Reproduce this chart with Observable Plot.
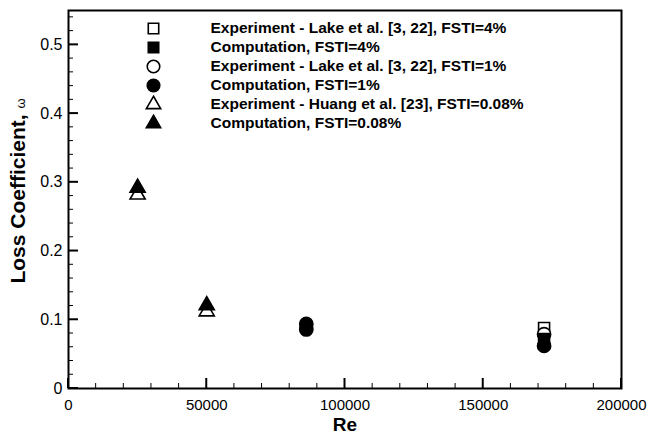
<!DOCTYPE html>
<html><head><meta charset="utf-8">
<script src="https://cdn.jsdelivr.net/npm/d3@7"></script>
<script src="https://cdn.jsdelivr.net/npm/@observablehq/plot@0.6"></script>
<style>body{margin:0;background:#fff;} #c{position:relative;width:652px;height:440px;}</style>
</head><body><div id="c"></div>
<script>
// Data
const reExp4 = [172000];           const lossExp4 = [0.088];
const reComp4 = [172000];          const lossComp4 = [0.072];
const reExp1 = [172000];           const lossExp1 = [0.079];
const reComp1 = [86000, 86000, 172000]; const lossComp1 = [0.094, 0.086, 0.062];
const reExpH = [25000, 50000];     const lossExpH = [0.282, 0.112];
const reCompH = [25000, 50000];    const lossCompH = [0.292, 0.121];

const xMajor = [0, 50000, 100000, 150000, 200000];
const yMajor = [0, 0.1, 0.2, 0.3, 0.4, 0.5];
const xMinor = [10000, 20000, 30000, 40000, 60000, 70000, 80000, 90000, 110000, 120000, 130000, 140000, 160000, 170000, 180000, 190000];
const yMinor = [0.02, 0.04, 0.06, 0.08, 0.12, 0.14, 0.16, 0.18, 0.22, 0.24, 0.26, 0.28, 0.32, 0.34, 0.36, 0.38, 0.42, 0.44, 0.46, 0.48, 0.52, 0.54];

const series = [
  {label: "Experiment - Lake et al. [3, 22], FSTI=4%", symbol: "square", filled: false, re: reExp4, loss: lossExp4},
  {label: "Computation, FSTI=4%", symbol: "square", filled: true, re: reComp4, loss: lossComp4},
  {label: "Experiment - Lake et al. [3, 22], FSTI=1%", symbol: "circle", filled: false, re: reExp1, loss: lossExp1},
  {label: "Computation, FSTI=1%", symbol: "circle", filled: true, re: reComp1, loss: lossComp1},
  {label: "Experiment - Huang et al. [23], FSTI=0.08%", symbol: "triangle", filled: false, re: reExpH, loss: lossExpH},
  {label: "Computation, FSTI=0.08%", symbol: "triangle", filled: true, re: reCompH, loss: lossCompH}
];
const sizeOf = s => s === "triangle" ? 5.6 : s === "square" ? 6.2 : 6.6;

const W = 652, H = 440, ML = 68, MR = 31, MT = 10, MB = 52;

const marks = [];
// tick labels
marks.push(Plot.axisX(xMajor, {tickSize: 0, tickPadding: 11, fontSize: 15, fill: "#000", label: null, tickFormat: d => String(d)}));
marks.push(Plot.axisY(yMajor, {tickSize: 0, tickPadding: 6, fontSize: 16, fill: "#000", label: null, tickFormat: d => d === 0 ? "0" : d.toFixed(1)}));

// data: open first, filled after
for (const pass of [false, true]) {
  for (const s of series.filter(s => s.filled === pass)) {
    const rows = s.re.map((r, i) => ({re: r, loss: s.loss[i]}));
    marks.push(Plot.dot(rows, {x: "re", y: "loss", symbol: () => s.symbol, r: sizeOf(s.symbol),
      fill: s.filled ? "#000" : "#fff", stroke: "#000", strokeWidth: 1.6}));
  }
}
// legend
series.forEach((s, i) => {
  marks.push(Plot.dot([s], {frameAnchor: "top-left", dx: 85, dy: 18 + i * 19, symbol: () => s.symbol, r: sizeOf(s.symbol) * 0.95,
    fill: s.filled ? "#000" : "#fff", stroke: "#000", strokeWidth: 1.6}));
  marks.push(Plot.text([s], {frameAnchor: "top-left", dx: 142, dy: 18 + i * 19, text: d => d.label, textAnchor: "start",
    lineAnchor: "middle", fontSize: 15.5, fontWeight: "bold", fill: "#000"}));
});
marks.push(Plot.frame({stroke: "#000", strokeWidth: 2}));

const chart = Plot.plot({
  width: W, height: H,
  marginLeft: ML, marginRight: MR, marginTop: MT, marginBottom: MB,
  style: {fontFamily: "'Liberation Sans', Arial, sans-serif", background: "#fff", color: "#000"},
  x: {domain: [0, 200000], axis: null},
  y: {domain: [0, 0.55], axis: null},
  symbol: {type: "identity"},
  marks
});
document.getElementById("c").appendChild(chart);

const svg = d3.select(chart);
// inward ticks, positioned with Plot's own scales
const sx = chart.scale("x"), sy = chart.scale("y");
const bottom = H - MB, left = ML;
const tg = svg.append("g").attr("stroke", "#000");
const tick = (vals, len, w, isX) => vals.forEach(v => {
  if (isX) { const x = sx.apply(v); tg.append("line").attr("x1", x).attr("x2", x).attr("y1", bottom).attr("y2", bottom - len).attr("stroke-width", w); }
  else { const y = sy.apply(v); tg.append("line").attr("x1", left).attr("x2", left + len).attr("y1", y).attr("y2", y).attr("stroke-width", w); }
});
tick(xMinor, 5, 1, true); tick(yMinor, 5, 1, false);
tick(xMajor, 10, 2, true); tick(yMajor, 10, 2, false);

// axis titles
svg.append("text").attr("x", 345).attr("y", 431).attr("text-anchor", "middle")
  .attr("font-family", "'Liberation Sans', Arial, sans-serif").attr("font-weight", "bold").attr("font-size", 19).attr("fill", "#000").text("Re");
const yl = svg.append("text").attr("transform", "translate(25,191) rotate(-90)").attr("text-anchor", "middle")
  .attr("font-family", "'Liberation Sans', Arial, sans-serif").attr("font-weight", "bold").attr("font-size", 21).attr("fill", "#000");
yl.append("tspan").text("Loss Coefficient, ");
yl.append("tspan").attr("font-size", 13).attr("font-weight", "normal").text("ω");
</script></body></html>
